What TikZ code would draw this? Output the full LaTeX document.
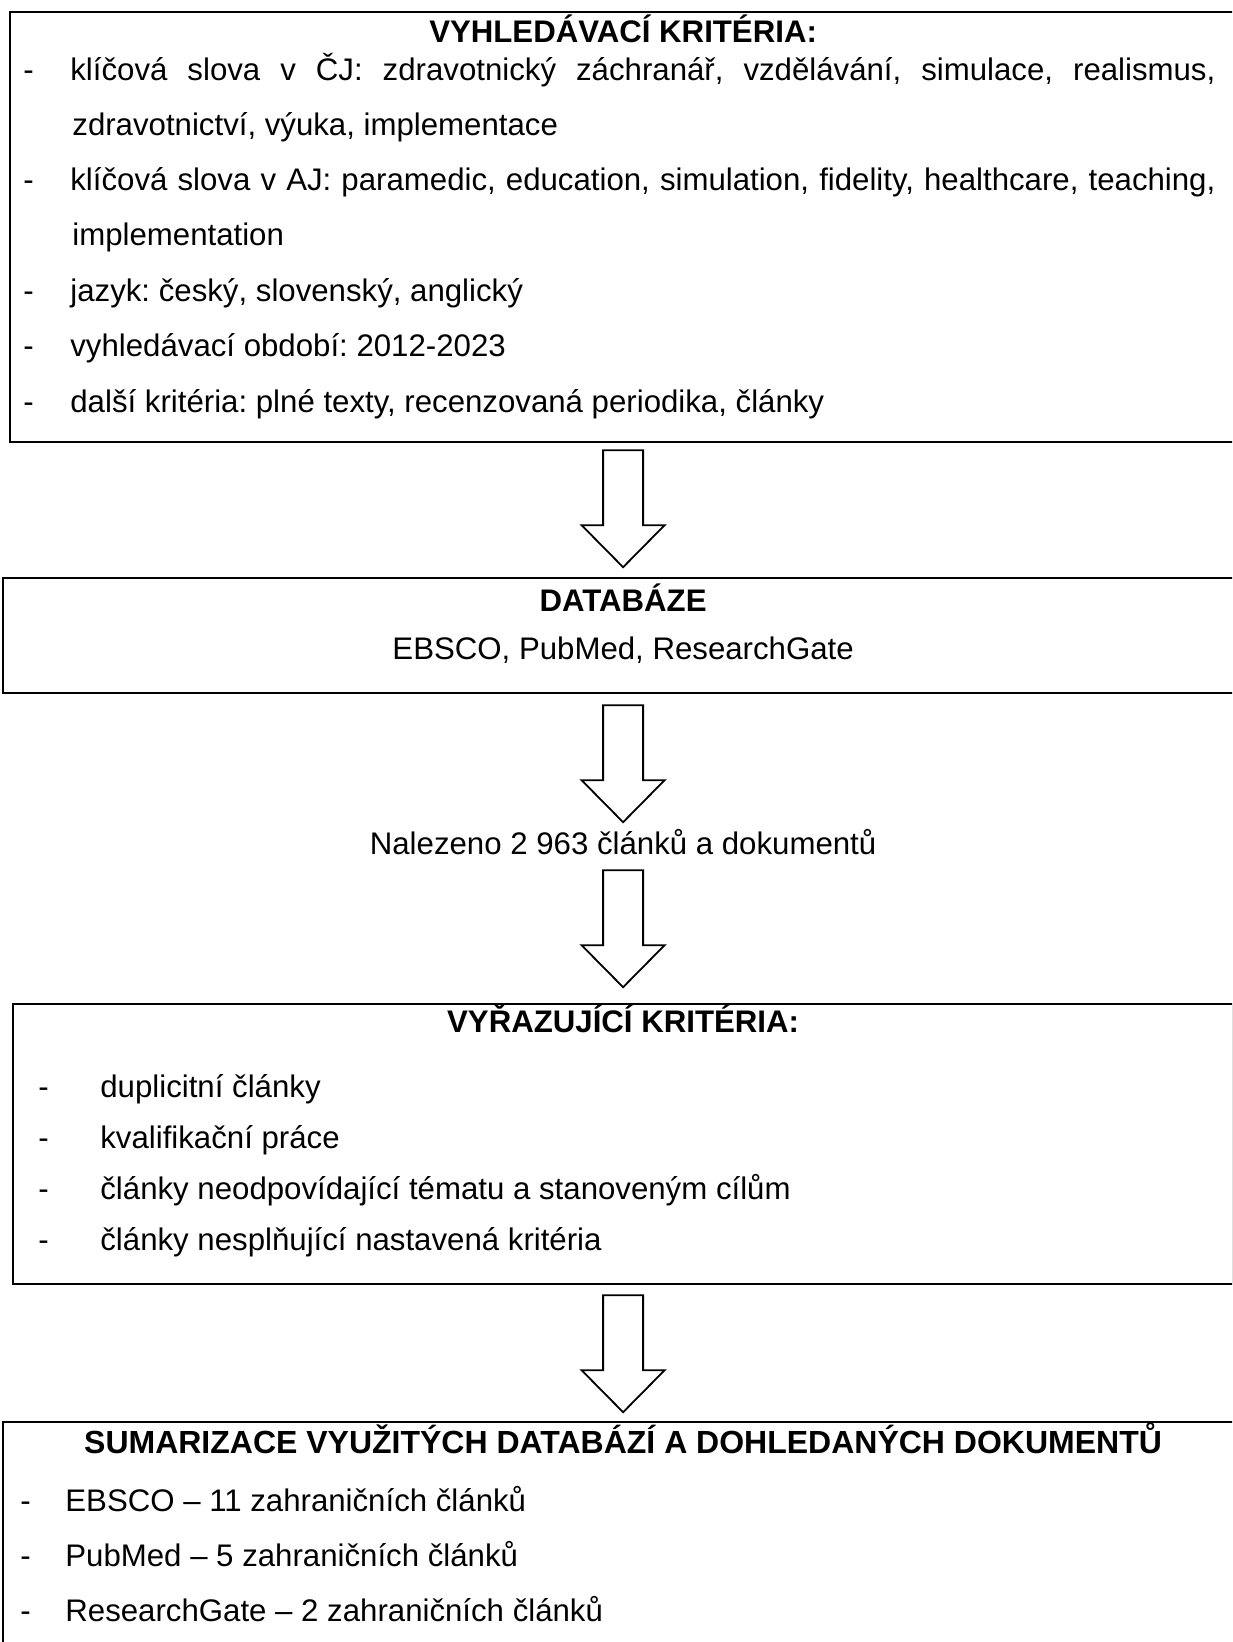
\documentclass[tikz,border=0pt]{standalone}
\usepackage{fontspec}
\setmainfont{Liberation Sans}
\usetikzlibrary{positioning,calc}
\frenchspacing

\newcommand{\itemdash}[1]{\makebox[#1][l]{-}}

\begin{document}
\begin{tikzpicture}[
    x=0.5pt, y=-0.5pt,
    font=\fontsize{15.6}{18}\selectfont,
    frame/.style={draw, line width=1.1pt, inner sep=0pt, anchor=north west},
    title/.style={font=\fontsize{15.6}{18}\selectfont\bfseries, anchor=base, inner sep=0pt},
    plain/.style={anchor=base, inner sep=0pt},
    line/.style={anchor=base west, inner sep=0pt},
    blockarrow/.pic={\draw[line width=0.9pt, fill=white] (-20,0) -- (20,0) -- (20,75) -- (41.5,75) -- (0,117) -- (-41.5,75) -- (-20,75) -- cycle;}
]
    \useasboundingbox (0,0) rectangle (1232,1642);
    \clip (0,0) rectangle (1232,1642);

    \node[frame, minimum width=613pt, minimum height=215pt] (crit) at (9,11) {};
    \node[frame, minimum width=620pt, minimum height=57.5pt] (db) at (2,577) {};
    \node[frame, minimum width=610pt, minimum height=140pt] (excl) at (12,1003) {};
    \node[frame, minimum width=620pt, minimum height=140pt] (summ) at (2,1421) {};

    % search criteria
    \node[title] (critTitle) at ($(crit.north)+(0,32)$) {VYHLEDÁVACÍ KRITÉRIA:};
    \node[line] (c1) at ($(crit.north west)+(14,70)$) {\itemdash{23.5pt}\makebox[572.5pt][s]{klíčová slova v ČJ: zdravotnický záchranář, vzdělávání, simulace, realismus,}};
    \node[line] (c2) at ($(crit.north west)+(63,125)$) {zdravotnictví, výuka, implementace};
    \node[line] (c3) at ($(crit.north west)+(14,180)$) {\itemdash{23.5pt}\makebox[572.5pt][s]{klíčová slova v AJ: paramedic, education, simulation, fidelity, healthcare, teaching,}};
    \node[line] (c4) at ($(crit.north west)+(63,235)$) {implementation};
    \foreach \txt [count=\i from 5] in {{jazyk: český, slovenský, anglický}, {vyhledávací období: 2012-2023}, {další kritéria: plné texty, recenzovaná periodika, články}}
        \node[line] (c\i) at ($(crit.north west)+(14,291+55*\i-275)$) {\itemdash{23.5pt}\txt};

    % databases
    \node[title] (dbTitle) at ($(db.north)+(0,34)$) {DATABÁZE};
    \node[plain] (dbList) at ($(db.north)+(0,82)$) {EBSCO, PubMed, ResearchGate};
    \node[plain] (found) at ($(db.south)+(0,160)$) {Nalezeno 2~963 článků a dokumentů};

    % exclusion criteria
    \node[title] (exclTitle) at ($(excl.north)+(0,29)$) {VYŘAZUJÍCÍ KRITÉRIA:};
    \foreach \txt [count=\i from 0] in {duplicitní články, kvalifikační práce, články neodpovídající tématu a stanoveným cílům, články nesplňující nastavená kritéria}
        \node[line] (e\i) at ($(excl.north west)+(26,94+51*\i)$) {\itemdash{31pt}\txt};

    % summary
    \node[title, font=\fontsize{16}{18}\selectfont\bfseries] (summTitle) at ($(summ.north)+(0,32)$) {SUMARIZACE VYUŽITÝCH DATABÁZÍ A DOHLEDANÝCH DOKUMENTŮ};
    \foreach \txt [count=\i from 0] in {EBSCO – 11 zahraničních článků, PubMed – 5 zahraničních článků, ResearchGate – 2 zahraničních článků}
        \node[line] (s\i) at ($(summ.north west)+(18,90+55*\i)$) {\itemdash{22.5pt}\txt};

    \pic at ($(crit.south)+(0,7)$) {blockarrow};
    \pic at ($(db.south)+(0,11)$) {blockarrow};
    \pic at ($(found.base)+(0,16)$) {blockarrow};
    \pic at ($(excl.south)+(0,10)$) {blockarrow};
\end{tikzpicture}
\end{document}
